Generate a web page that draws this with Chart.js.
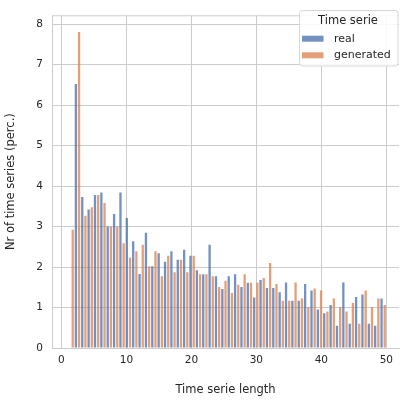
<!DOCTYPE html>
<html>
<head>
<meta charset="utf-8">
<script src="https://cdn.jsdelivr.net/npm/chart.js@4/dist/chart.umd.min.js"></script>
<style>
html,body{margin:0;padding:0;background:#fff;}
#wrap{width:400px;height:401px;position:relative;}
</style>
</head>
<body>
<div id="wrap"><canvas id="c" width="400" height="401"></canvas></div>
<script>
// Histogram bins: 50 bins spanning time serie length 1..50
const binStart = 1;
const binEnd = 50;
const binCount = 50;
const seriesLabels = ["real", "generated"];
const realValues = [0, 6.52, 3.73, 3.42, 3.78, 3.84, 3.0, 3.31, 3.84, 3.21,
  2.64, 1.83, 2.85, 2.02, 2.34, 2.13, 2.39, 2.18, 2.43, 2.28,
  1.92, 1.82, 2.55, 1.77, 1.46, 1.77, 1.82, 1.51, 1.61, 1.25,
  1.68, 1.48, 1.48, 1.38, 1.62, 1.17, 1.17, 1.58, 1.42, 0.95,
  0.86, 1.06, 0.55, 1.62, 0.60, 1.26, 1.32, 0.60, 0.55, 1.22];
const generatedValues = [2.92, 7.81, 3.27, 3.48, 3.78, 3.58, 3.0, 3.0, 2.59, 2.23,
  2.39, 2.55, 2.02, 2.39, 1.77, 2.28, 1.87, 2.18, 1.87, 2.28,
  1.82, 1.82, 1.77, 1.51, 1.66, 1.36, 1.56, 1.82, 1.61, 1.61,
  1.73, 2.10, 1.58, 1.17, 1.17, 1.62, 1.22, 1.01, 1.47, 1.42,
  0.90, 1.22, 1.01, 0.90, 1.11, 0.60, 1.42, 1.01, 1.22, 1.06];
const xTicks = [0, 10, 20, 30, 40, 50];
const yTicks = [0, 1, 2, 3, 4, 5, 6, 7, 8];

const binW = (binEnd - binStart) / binCount;
const realPts = realValues.map((v, i) => ({x: binStart + binW * i + binW * 0.25, y: v}));
const genPts = generatedValues.map((v, i) => ({x: binStart + binW * i + binW * 0.75, y: v}));

const FONT = "'DejaVu Sans', sans-serif";
const TXT = '#262626';
const GRID = '#cccccc';
const BLUE = 'rgba(76,114,176,0.78)';
const ORANGE = 'rgba(221,132,82,0.78)';

const framePlugin = {
  id: 'frame',
  beforeDatasetsDraw(chart) {
    const {ctx, chartArea: a} = chart;
    ctx.save();
    ctx.strokeStyle = GRID;
    ctx.lineWidth = 1;
    ctx.beginPath();
    ctx.moveTo(a.left, a.top + 0.5);
    ctx.lineTo(a.right, a.top + 0.5);
    ctx.stroke();
    ctx.restore();
  },
  afterDraw(chart) {
    const {ctx} = chart;
    const ds = chart.data.datasets;
    ctx.save();
    const bx = 299.5, by = 10.5, bw = 98.5, bh = 55.5, r = 3;
    ctx.fillStyle = 'rgba(255,255,255,0.85)';
    ctx.strokeStyle = '#d6d6d6';
    ctx.lineWidth = 1;
    ctx.beginPath();
    ctx.moveTo(bx + r, by);
    ctx.lineTo(bx + bw - r, by);
    ctx.arcTo(bx + bw, by, bx + bw, by + r, r);
    ctx.lineTo(bx + bw, by + bh - r);
    ctx.arcTo(bx + bw, by + bh, bx + bw - r, by + bh, r);
    ctx.lineTo(bx + r, by + bh);
    ctx.arcTo(bx, by + bh, bx, by + bh - r, r);
    ctx.lineTo(bx, by + r);
    ctx.arcTo(bx, by, bx + r, by, r);
    ctx.closePath();
    ctx.fill();
    ctx.stroke();
    ctx.fillStyle = TXT;
    ctx.font = '11.5px ' + FONT;
    ctx.textAlign = 'center';
    ctx.textBaseline = 'middle';
    ctx.fillText('Time serie', 348, 21.5);
    ctx.textAlign = 'left';
    ctx.font = '11px ' + FONT;
    const rows = [38.7, 55.3];
    ds.forEach((d, i) => {
      ctx.fillStyle = d.backgroundColor;
      ctx.fillRect(302, rows[i] - 3, 21.5, 6);
      ctx.fillStyle = TXT;
      ctx.fillText(d.label, 334, rows[i]);
    });
    ctx.restore();
  }
};

new Chart(document.getElementById('c'), {
  type: 'bar',
  data: {
    datasets: [
      {label: seriesLabels[0], data: realPts, backgroundColor: BLUE, barThickness: 2.3, inflateAmount: 0, grouped: false, borderWidth: 0},
      {label: seriesLabels[1], data: genPts, backgroundColor: ORANGE, barThickness: 2.3, inflateAmount: 0, grouped: false, borderWidth: 0}
    ]
  },
  options: {
    responsive: false,
    animation: false,
    layout: {padding: {top: 5, right: 1, left: 0, bottom: 0}},
    plugins: {legend: {display: false}, tooltip: {enabled: false}},
    scales: {
      x: {
        type: 'linear',
        offset: false,
        min: -1.45,
        max: 51.95,
        afterFit(s) { s.height = 53; },
        afterBuildTicks(s) { s.ticks = xTicks.map(v => ({value: v})); },
        ticks: {font: {family: FONT, size: 10.5}, color: TXT, padding: 6, includeBounds: false, maxRotation: 0},
        grid: {color: GRID, lineWidth: 1, drawTicks: false, offset: false},
        border: {color: GRID, width: 1},
        title: {display: true, text: 'Time serie length', font: {family: FONT, size: 11.5}, color: TXT, padding: {top: 0, bottom: 4}}
      },
      y: {
        min: 0,
        max: 8.22,
        afterFit(s) { s.width = 52; },
        afterBuildTicks(s) { s.ticks = yTicks.map(v => ({value: v})); },
        ticks: {font: {family: FONT, size: 10.5}, color: TXT, padding: 9, includeBounds: false},
        grid: {color: GRID, lineWidth: 1, drawTicks: false},
        border: {color: GRID, width: 1},
        title: {display: true, text: 'Nr of time series (perc.)', font: {family: FONT, size: 11.5}, color: TXT, padding: {top: 4, bottom: 0}}
      }
    }
  },
  plugins: [framePlugin]
});
</script>
</body>
</html>
